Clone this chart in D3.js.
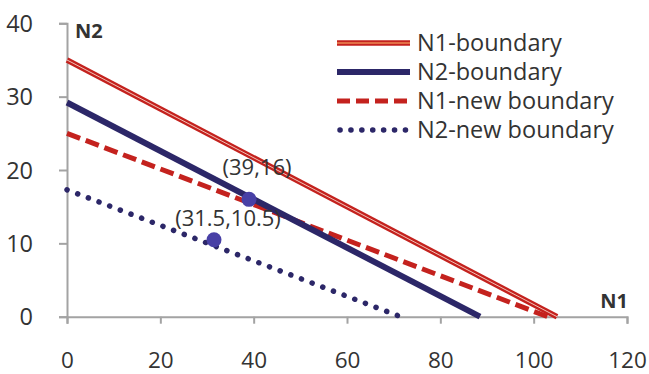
<!DOCTYPE html>
<html>
<head>
<meta charset="utf-8">
<script src="https://cdn.jsdelivr.net/npm/d3@7"></script>
<style>
  html, body { margin: 0; padding: 0; background: #fff; }
  svg { display: block; }
  text { font-family: "Open Sans", "Liberation Sans", sans-serif; fill: #333; }
</style>
</head>
<body>
<svg id="chart" width="649" height="374"></svg>
<script>
// Axis ticks
const xTicks = [0, 20, 40, 60, 80, 100, 120];
const yTicks = [0, 10, 20, 30, 40];

// Boundary lines: [N1, N2] end points
const n1Boundary    = [[0, 35],   [105, 0]];
const n2Boundary    = [[0, 29.2], [88.5, 0]];
const n1NewBoundary = [[0, 25],   [103, 0]];
const n2NewBoundary = [[0, 17.3], [71.5, 0]];

// Highlighted operating points
const pointN1 = [39, 31.5];
const pointN2 = [16, 10.5];
const pointLabels = ["(39,16)", "(31.5,10.5)"];

// Legend entries
const legendNames = ["N1-boundary", "N2-boundary", "N1-new boundary", "N2-new boundary"];

const svg = d3.select("#chart");
const x = d3.scaleLinear().domain([0, 120]).range([67, 627]);
const y = d3.scaleLinear().domain([0, 40]).range([316.7, 23.3]);

const axisColor = "#a3a3a3";
const red = "#c4221e";
const navy = "#2c2768";
const markerColor = "#4840a6";

// Axes
const xAxis = svg.append("g")
  .attr("transform", `translate(0,${y(0)})`)
  .call(d3.axisBottom(x).tickValues(xTicks).tickSize(7).tickPadding(32).tickSizeOuter(7));
const yAxis = svg.append("g")
  .attr("transform", `translate(${x(0)},0)`)
  .call(d3.axisLeft(y).tickValues(yTicks).tickSize(8).tickPadding(26).tickSizeOuter(8));

xAxis.attr("font-size", 22.5);
yAxis.attr("font-size", 23.5);
[xAxis, yAxis].forEach(g => {
  g.attr("font-family", "'Open Sans', sans-serif");
  g.select(".domain").attr("stroke", axisColor).attr("stroke-width", 2);
  g.selectAll(".tick line").attr("stroke", axisColor).attr("stroke-width", 2);
  g.selectAll(".tick text").attr("fill", "#333");
});
xAxis.selectAll(".tick text").attr("dy", "0.55em");
yAxis.selectAll(".tick text").attr("dy", "0.34em");

const line = d3.line().x(d => x(d[0])).y(d => y(d[1]));

// N2 new boundary (dotted)
svg.append("path").attr("d", line(n2NewBoundary))
  .attr("fill", "none").attr("stroke", navy).attr("stroke-width", 5.5)
  .attr("stroke-linecap", "round").attr("stroke-dasharray", "0.1 11.3");

// N1 new boundary (dashed)
svg.append("path").attr("d", line(n1NewBoundary))
  .attr("fill", "none").attr("stroke", red).attr("stroke-width", 5)
  .attr("stroke-dasharray", "14 6");

// N2 boundary
svg.append("path").attr("d", line(n2Boundary))
  .attr("fill", "none").attr("stroke", navy).attr("stroke-width", 6);

// N1 boundary: double stroke (red with a thin light core)
svg.append("path").attr("d", line(n1Boundary))
  .attr("fill", "none").attr("stroke", red).attr("stroke-width", 5.5);
svg.append("path").attr("d", line(n1Boundary))
  .attr("fill", "none").attr("stroke", "#f7d2c8").attr("stroke-width", 0.9);

// Points with labels
const pts = pointN1.map((v, i) => ({ n1: v, n2: pointN2[i], label: pointLabels[i] }));
svg.selectAll("circle.pt").data(pts).join("circle")
  .attr("class", "pt")
  .attr("cx", d => x(d.n1)).attr("cy", d => y(d.n2)).attr("r", 7.5)
  .attr("fill", markerColor);
const labelDx = [8, 14];
const labelDy = [-24, -14];
svg.selectAll("text.pt-label").data(pts).join("text")
  .attr("class", "pt-label")
  .attr("x", (d, i) => x(d.n1) + labelDx[i])
  .attr("y", (d, i) => y(d.n2) + labelDy[i])
  .attr("text-anchor", "middle")
  .attr("font-size", 22)
  .text(d => d.label);

// Axis titles
svg.append("text").attr("x", 75).attr("y", 38)
  .attr("font-size", 20).attr("font-weight", "bold").attr("fill", "#1e1e1e").text("N2");
svg.append("text").attr("x", 628).attr("y", 308).attr("text-anchor", "end")
  .attr("font-size", 20).attr("font-weight", "bold").attr("fill", "#1e1e1e").text("N1");

// Legend
const legend = svg.append("g");
const rowY = [43, 72, 101, 130];
const legendStyles = [
  { stroke: red, width: 5.5, dash: null, core: true },
  { stroke: navy, width: 6, dash: null, core: false },
  { stroke: red, width: 5, dash: "13 6", core: false },
  { stroke: navy, width: 5.5, dash: "0.1 10.8", cap: "round", core: false }
];
legendNames.forEach((name, i) => {
  const s = legendStyles[i];
  const l = legend.append("line")
    .attr("x1", 337).attr("x2", 410).attr("y1", rowY[i]).attr("y2", rowY[i])
    .attr("stroke", s.stroke).attr("stroke-width", s.width);
  if (s.dash) l.attr("stroke-dasharray", s.dash);
  if (s.cap) l.attr("stroke-linecap", s.cap).attr("x1", 340);
  if (s.core) {
    legend.append("line")
      .attr("x1", 337).attr("x2", 410).attr("y1", rowY[i]).attr("y2", rowY[i])
      .attr("stroke", "#ee8a55").attr("stroke-width", 1.6);
  }
  legend.append("text")
    .attr("x", 417).attr("y", rowY[i]).attr("dy", "0.36em")
    .attr("font-size", 23.5).text(name);
});
</script>
</body>
</html>
